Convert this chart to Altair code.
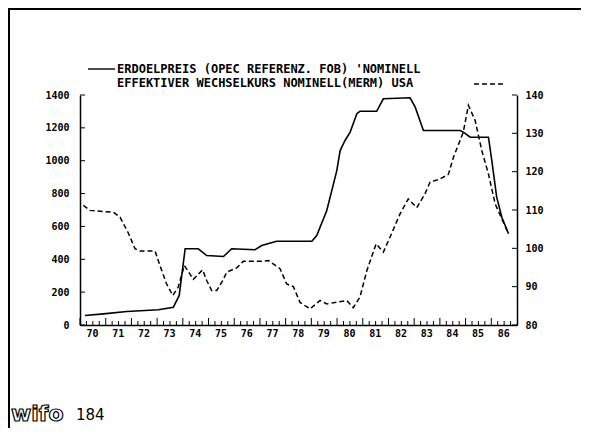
import altair as alt
import pandas as pd

# ---- data ----
oil_year = [1970.19, 1970.91, 1971.82, 1973.05, 1973.63, 1973.86, 1974.09, 1974.60, 1974.93,
            1975.58, 1975.90, 1976.81, 1977.07, 1977.65, 1978.56, 1979.02, 1979.21, 1979.60,
            1979.99, 1980.12, 1980.31, 1980.51, 1980.77, 1980.89, 1981.54, 1981.80, 1982.84,
            1983.04, 1983.36, 1984.79, 1984.91, 1985.18, 1985.89, 1986.02, 1986.21, 1986.41,
            1986.67]
oil_value = [58, 68, 82, 93, 108, 180, 464, 464, 423,
             417, 464, 458, 484, 510, 510, 510, 545, 697,
             940, 1062, 1123, 1174, 1286, 1301, 1301, 1377, 1383,
             1326, 1184, 1184, 1174, 1143, 1143, 1001, 778, 656,
             555]

fx_year = [1970.13, 1970.39, 1970.91, 1971.30, 1971.56, 1971.88, 1972.14, 1972.33, 1972.92, 1973.11,
           1973.37, 1973.61, 1973.82, 1974.06, 1974.21, 1974.41, 1974.77, 1974.93, 1975.12, 1975.32,
           1975.55, 1975.71, 1976.10, 1976.35, 1977.00, 1977.33, 1977.78, 1978.04, 1978.30, 1978.56,
           1978.95, 1979.34, 1979.60, 1980.38, 1980.63, 1980.89, 1981.16, 1981.52, 1981.80, 1982.06,
           1982.45, 1982.77, 1983.10, 1983.42, 1983.62, 1984.01, 1984.33, 1984.53, 1984.91, 1985.11,
           1985.37, 1985.63, 1985.89, 1986.15, 1986.41, 1986.67]
fx_value = [111.2, 109.9, 109.6, 109.4, 108.1, 104.0, 99.9, 99.3, 99.3, 95.5,
            90.7, 87.7, 89.9, 95.5, 94.0, 91.9, 94.4, 91.6, 89.0, 89.0,
            91.6, 93.8, 94.9, 96.6, 96.6, 96.8, 94.7, 90.7, 90.0, 85.9,
            84.2, 86.4, 85.5, 86.4, 84.5, 87.3, 94.2, 101.2, 99.0, 102.9,
            109.0, 112.9, 110.6, 114.2, 117.3, 118.1, 119.3, 123.8, 130.3, 137.3,
            133.4, 125.5, 119.4, 111.6, 107.7, 103.8]

left_ticks = [0, 200, 400, 600, 800, 1000, 1200, 1400]
right_ticks = [80, 90, 100, 110, 120, 130, 140]
year_ticks = list(range(1970, 1987))
quarter_ticks = [y + q for y in range(1970, 1987) for q in (0.25, 0.5, 0.75)]

legend_1 = "ERDOELPREIS (OPEC REFERENZ. FOB) 'NOMINELL"
legend_2 = "EFFEKTIVER WECHSELKURS NOMINELL(MERM) USA"
page_no = "184"
logo = "wifo"

FONT = "DejaVu Sans Mono"
W, H = 437, 230

oil_df = pd.DataFrame({"year": oil_year, "value": oil_value})
fx_df = pd.DataFrame({"year": fx_year, "value": fx_value})
left_df = pd.DataFrame({"value": left_ticks})
right_df = pd.DataFrame({"value": right_ticks})
year_df = pd.DataFrame({"year": year_ticks})
quarter_df = pd.DataFrame({"year": quarter_ticks})

x_axis = alt.Axis(
    values=year_ticks, title=None, grid=False, ticks=False,
    domainColor="black", domainWidth=1.5,
    labelExpr="'' + (datum.value - 1900)",
    labelOffset=12, labelPadding=3, labelFlush=False, labelOverlap=False, labelBound=False,
    labelFont=FONT, labelFontSize=10, labelFontWeight="bold", labelColor="black",
)
x_enc = alt.X("year:Q", scale=alt.Scale(domain=[1970, 1987], nice=False, zero=False), axis=x_axis)

y_left = alt.Y("value:Q", scale=alt.Scale(domain=[0, 1400], nice=False),
               axis=alt.Axis(values=left_ticks, title=None, grid=False, orient="left",
                             ticks=False, format="d",
                             domainColor="black", domainWidth=1.5,
                             labelPadding=11, labelFont=FONT, labelFontSize=10,
                             labelFontWeight="bold", labelColor="black"))
y_right = alt.Y("value:Q", scale=alt.Scale(domain=[80, 140], nice=False, zero=False),
                axis=alt.Axis(values=right_ticks, title=None, grid=False, orient="right",
                              ticks=False, format="d",
                              domainColor="black", domainWidth=1.5,
                              labelPadding=8, labelFont=FONT, labelFontSize=10,
                              labelFontWeight="bold", labelColor="black"))

oil = alt.Chart(oil_df).mark_line(color="black", strokeWidth=1.6).encode(x=x_enc, y=y_left)
left_tk = alt.Chart(left_df).mark_rule(color="black", strokeWidth=1).encode(
    y=y_left, x=alt.value(0), x2=alt.value(5))
year_tk = alt.Chart(year_df).mark_rule(color="black", strokeWidth=1).encode(
    x=x_enc, y=alt.value(H), y2=alt.value(H - 7))
quarter_tk = alt.Chart(quarter_df).mark_rule(color="black", strokeWidth=1).encode(
    x=x_enc, y=alt.value(H), y2=alt.value(H - 4))
left_group = alt.layer(oil, left_tk, year_tk, quarter_tk)

fx = alt.Chart(fx_df).mark_line(color="black", strokeWidth=1.5, strokeDash=[5, 3]).encode(
    x=x_enc, y=y_right)
right_tk = alt.Chart(right_df).mark_rule(color="black", strokeWidth=1).encode(
    y=y_right, x=alt.value(W - 5), x2=alt.value(W))
right_group = alt.layer(fx, right_tk)

one = pd.DataFrame({"t": [0]})

leg_text1 = alt.Chart(one).mark_text(text=legend_1, align="left", baseline="middle", font=FONT,
                                     fontSize=12, fontWeight="bold", color="black").encode(
    x=alt.value(37), y=alt.value(-26))
leg_text2 = alt.Chart(one).mark_text(text=legend_2, align="left", baseline="middle", font=FONT,
                                     fontSize=12, fontWeight="bold", color="black").encode(
    x=alt.value(37), y=alt.value(-12))
leg_solid = alt.Chart(one).mark_rule(color="black", strokeWidth=1.4).encode(
    x=alt.value(8), x2=alt.value(35), y=alt.value(-26))
leg_dash = alt.Chart(one).mark_rule(color="black", strokeWidth=1.4, strokeDash=[5, 3]).encode(
    x=alt.value(394), x2=alt.value(423), y=alt.value(-11))

border_top = alt.Chart(one).mark_rule(color="black", strokeWidth=2).encode(
    x=alt.value(-71), x2=alt.value(509), y=alt.value(-86))
border_left = alt.Chart(one).mark_rule(color="black", strokeWidth=2).encode(
    x=alt.value(-71), y=alt.value(-87), y2=alt.value(340))

logo_text = alt.Chart(one).mark_text(text=logo, align="left", baseline="alphabetic",
                                     font="DejaVu Sans", fontSize=22, fontWeight="bold",
                                     fill="white", stroke="black", strokeWidth=1.2).encode(
    x=alt.value(-69), y=alt.value(326))
page_text = alt.Chart(one).mark_text(text=page_no, align="left", baseline="middle",
                                     font="DejaVu Sans", fontSize=15, color="black").encode(
    x=alt.value(-4), y=alt.value(320))

chart = alt.layer(
    left_group, right_group, leg_text1, leg_text2, leg_solid, leg_dash,
    border_top, border_left, logo_text, page_text,
).resolve_scale(y="independent").properties(
    width=W, height=H,
    padding={"left": 72, "top": 87, "right": 64, "bottom": 103},
    autosize=alt.AutoSizeParams(type="none"),
    background="white",
).configure_view(stroke=None)

chart.save("out.html", embed_options={"renderer": "svg", "actions": False})
